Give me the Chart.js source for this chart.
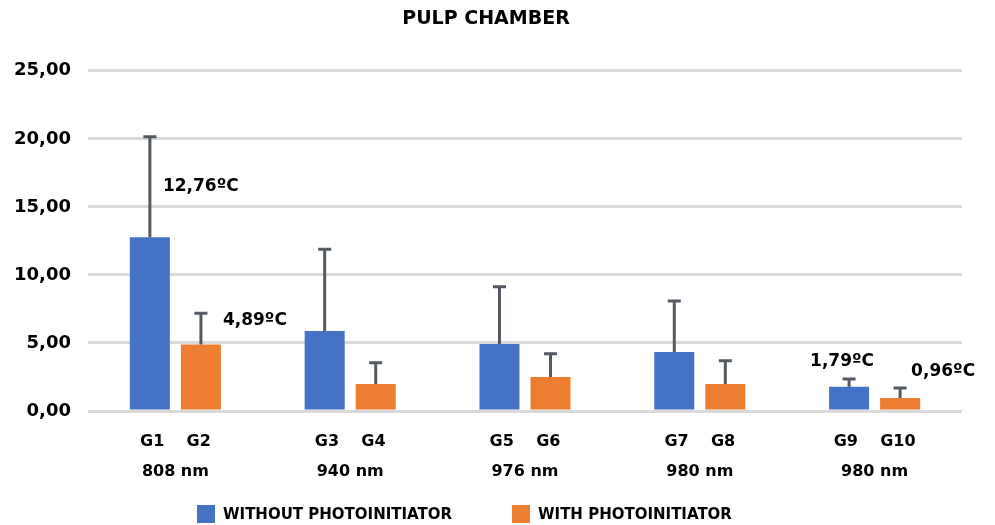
<!DOCTYPE html>
<html>
<head>
<meta charset="utf-8">
<script src="https://cdn.jsdelivr.net/npm/chart.js@4"></script>
<style>
  html, body { margin: 0; padding: 0; background: #ffffff; }
  #wrap { width: 995px; height: 525px; }
</style>
</head>
<body>
<div id="wrap"><canvas id="c" width="995" height="525"></canvas></div>
<script>
// ---- data ----
const categories = [
  ['G1    G2', '808 nm'],
  ['G3    G4', '940 nm'],
  ['G5    G6', '976 nm'],
  ['G7    G8', '980 nm'],
  ['G9    G10', '980 nm']
];
const seriesNames = ['WITHOUT PHOTOINITIATOR', 'WITH PHOTOINITIATOR'];
const withoutPI = [12.76, 5.88, 4.93, 4.34, 1.79];
const withPI = [4.89, 1.99, 2.50, 1.99, 0.96];
const withoutPI_sd = [7.40, 6.00, 4.20, 3.75, 0.56];
const withPI_sd = [2.30, 1.55, 1.70, 1.70, 0.73];
const withoutPI_labels = ['12,76ºC', null, null, null, '1,79ºC'];
const withPI_labels = ['4,89ºC', null, null, null, '0,96ºC'];
const yTicks = [0, 5, 10, 15, 20, 25];

const FONT = "'DejaVu Sans', sans-serif";
const BLUE = '#4472C4';
const ORANGE = '#ED7D31';

// error bars (upper only)
const errorBarPlugin = {
  id: 'errorBars',
  afterDatasetsDraw(chart) {
    const ctx = chart.ctx;
    const y = chart.scales.y;
    const sds = [withoutPI_sd, withPI_sd];
    chart.data.datasets.forEach((ds, i) => {
      const meta = chart.getDatasetMeta(i);
      meta.data.forEach((bar, j) => {
        const top = y.getPixelForValue(ds.data[j] + sds[i][j]);
        ctx.save();
        ctx.strokeStyle = '#545a62';
        ctx.lineWidth = 3;
        ctx.beginPath();
        ctx.moveTo(bar.x, bar.y);
        ctx.lineTo(bar.x, top);
        ctx.moveTo(bar.x - 6.5, top);
        ctx.lineTo(bar.x + 6.5, top);
        ctx.stroke();
        ctx.restore();
      });
    });
  }
};

// value annotations
const labelOffsets = [
  [{dx: 13, dy: -51, align: 'left'}, null, null, null, {dx: -7, dy: -25, align: 'center'}],
  [{dx: 22, dy: -24, align: 'left'}, null, null, null, {dx: 11, dy: -26, align: 'left'}]
];
const valueLabelPlugin = {
  id: 'valueLabels',
  afterDatasetsDraw(chart) {
    const ctx = chart.ctx;
    const lbls = [withoutPI_labels, withPI_labels];
    chart.data.datasets.forEach((ds, i) => {
      const meta = chart.getDatasetMeta(i);
      meta.data.forEach((bar, j) => {
        const t = lbls[i][j];
        const o = labelOffsets[i][j];
        if (!t || !o) return;
        ctx.save();
        ctx.font = 'bold 17px ' + FONT;
        ctx.fillStyle = '#000000';
        ctx.textAlign = o.align;
        ctx.textBaseline = 'middle';
        ctx.fillText(t, bar.x + o.dx, bar.y + o.dy);
        ctx.restore();
      });
    });
  }
};

// bottom legend
const legendPlugin = {
  id: 'customLegend',
  afterDraw(chart) {
    const ctx = chart.ctx;
    const colors = [BLUE, ORANGE];
    const starts = [197, 512];
    const yc = 514;
    ctx.save();
    ctx.font = 'bold 15px ' + FONT;
    ctx.textBaseline = 'middle';
    ctx.textAlign = 'left';
    seriesNames.forEach((name, i) => {
      ctx.fillStyle = colors[i];
      ctx.fillRect(starts[i], yc - 9, 18, 18);
      ctx.fillStyle = '#000000';
      ctx.fillText(name, starts[i] + 26, yc + 1);
    });
    ctx.restore();
  }
};

new Chart(document.getElementById('c'), {
  type: 'bar',
  data: {
    labels: categories,
    datasets: [
      { label: seriesNames[0], data: withoutPI, backgroundColor: BLUE },
      { label: seriesNames[1], data: withPI, backgroundColor: ORANGE }
    ]
  },
  options: {
    responsive: false,
    animation: false,
    devicePixelRatio: 1,
    categoryPercentage: 0.584,
    barPercentage: 0.784,
    layout: { padding: { left: 10, right: 33, top: 0, bottom: 40 } },
    plugins: {
      legend: { display: false },
      tooltip: { enabled: false },
      title: {
        display: true,
        text: 'PULP CHAMBER',
        color: '#000000',
        font: { family: FONT, size: 19, weight: 'bold' },
        padding: { top: 8, bottom: 40 }
      }
    },
    scales: {
      x: {
        grid: { display: false, drawTicks: false },
        border: { display: false },
        ticks: {
          color: '#000000',
          font: { family: FONT, size: 16, weight: 'bold', lineHeight: '30px' },
          padding: 16,
          maxRotation: 0,
          autoSkip: false
        },
        afterFit(scale) { scale.height = 74; }
      },
      y: {
        min: 0,
        max: 25,
        afterBuildTicks(scale) { scale.ticks = yTicks.map(v => ({ value: v })); },
        grid: { color: '#d9d9d9', lineWidth: 3, drawTicks: false },
        border: { display: false },
        ticks: {
          color: '#000000',
          font: { family: FONT, size: 18, weight: 'bold' },
          padding: 17,
          callback: (v) => Number(v).toFixed(2).replace('.', ',')
        },
        afterFit(scale) { scale.width = 78; }
      }
    }
  },
  plugins: [errorBarPlugin, valueLabelPlugin, legendPlugin]
});
</script>
</body>
</html>
